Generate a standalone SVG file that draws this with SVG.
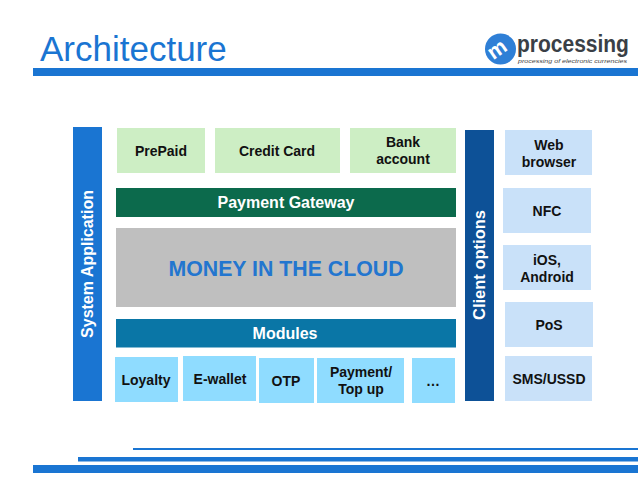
<svg xmlns="http://www.w3.org/2000/svg" width="638" height="479" viewBox="0 0 638 479">
<style>
text{font-family:"Liberation Sans",Arial,sans-serif;font-weight:bold;font-size:14px;fill:#111;text-anchor:middle}
.g{fill:#cdeec4}.c{fill:#8fdcff}.b{fill:#c9e1f9}.bar{fill:#1a75d2}
.w{fill:#fff;font-size:16px}
</style>
<rect width="638" height="479" fill="#fff"/>
<g id="header">
<text x="40" y="61" style="font-size:35px;font-weight:normal;fill:#1a75d2;text-anchor:start">Architecture</text>
<rect class="bar" x="33" y="68" width="605" height="8"/>
</g>
<g id="logo">
<circle cx="500.500" cy="49" r="15.500" fill="#2f7fd6"/>
<text transform="translate(501 55) rotate(-35)" style="font-size:21px;fill:#fff">m</text>
<text transform="translate(517 52) scale(.875 1)" style="font-size:24px;fill:#3a3f46;text-anchor:start">processing</text>
<text x="518" y="63" style="font-size:6px;font-weight:normal;font-style:italic;fill:#444;text-anchor:start" textLength="109" lengthAdjust="spacingAndGlyphs">processing of electronic currencies</text>
</g>
<g id="system-application">
<rect class="bar" x="73" y="127" width="29" height="274"/>
<text class="w" transform="translate(93 264) rotate(-90)">System Application</text>
</g>
<g id="prepaid"><rect class="g" x="117" y="128" width="88" height="45"/><text x="161" y="156">PrePaid</text></g>
<g id="credit-card"><rect class="g" x="215" y="128" width="125" height="45"/><text x="277" y="156">Credit Card</text></g>
<g id="bank-account"><rect class="g" x="350" y="128" width="106" height="45"/><text x="403" y="147">Bank</text><text x="403" y="164">account</text></g>
<g id="payment-gateway"><rect x="116" y="188" width="340" height="29" fill="#0c6a4c"/><text class="w" x="286" y="208">Payment Gateway</text></g>
<g id="money-in-the-cloud"><rect x="116" y="228" width="340" height="79" fill="#bfbfbf"/><text x="286" y="276" style="font-size:21.300px;fill:#2376cf">MONEY IN THE CLOUD</text></g>
<g id="modules"><rect x="116" y="319" width="340" height="28.500" fill="#0a76a6"/><text class="w" x="285" y="339">Modules</text></g>
<g id="loyalty"><rect class="c" x="115" y="357" width="63" height="45"/><text x="146" y="385">Loyalty</text></g>
<g id="e-wallet"><rect class="c" x="183" y="356" width="73" height="45"/><text x="220" y="384">E-wallet</text></g>
<g id="otp"><rect class="c" x="259" y="358" width="55" height="45"/><text x="286" y="386">OTP</text></g>
<g id="payment-top-up"><rect class="c" x="317" y="358" width="87" height="45"/><text x="361" y="377">Payment/</text><text x="361" y="394">Top up</text></g>
<g id="ellipsis"><rect class="c" x="412" y="358" width="43" height="45"/><text x="433" y="386">…</text></g>
<g id="client-options">
<rect x="465" y="130" width="29" height="271" fill="#0d5197"/>
<text class="w" transform="translate(484.500 265) rotate(-90)" style="font-size:16.500px">Client options</text>
</g>
<g id="web-browser"><rect class="b" x="505" y="130" width="87" height="45"/><text x="549" y="150">Web</text><text x="549" y="167">browser</text></g>
<g id="nfc"><rect class="b" x="503" y="188" width="88" height="45"/><text x="547" y="216">NFC</text></g>
<g id="ios-android"><rect class="b" x="503" y="245" width="88" height="45"/><text x="547" y="265">iOS,</text><text x="547" y="282">Android</text></g>
<g id="pos"><rect class="b" x="505" y="302" width="88" height="45"/><text x="549" y="330">PoS</text></g>
<g id="sms-ussd"><rect class="b" x="505" y="356" width="87" height="45"/><text x="549" y="384">SMS/USSD</text></g>
<g id="footer">
<rect class="bar" x="133" y="448" width="505" height="2"/>
<rect class="bar" x="78" y="457" width="560" height="4.500"/>
<rect class="bar" x="33" y="465" width="605" height="8"/>
</g>
</svg>
